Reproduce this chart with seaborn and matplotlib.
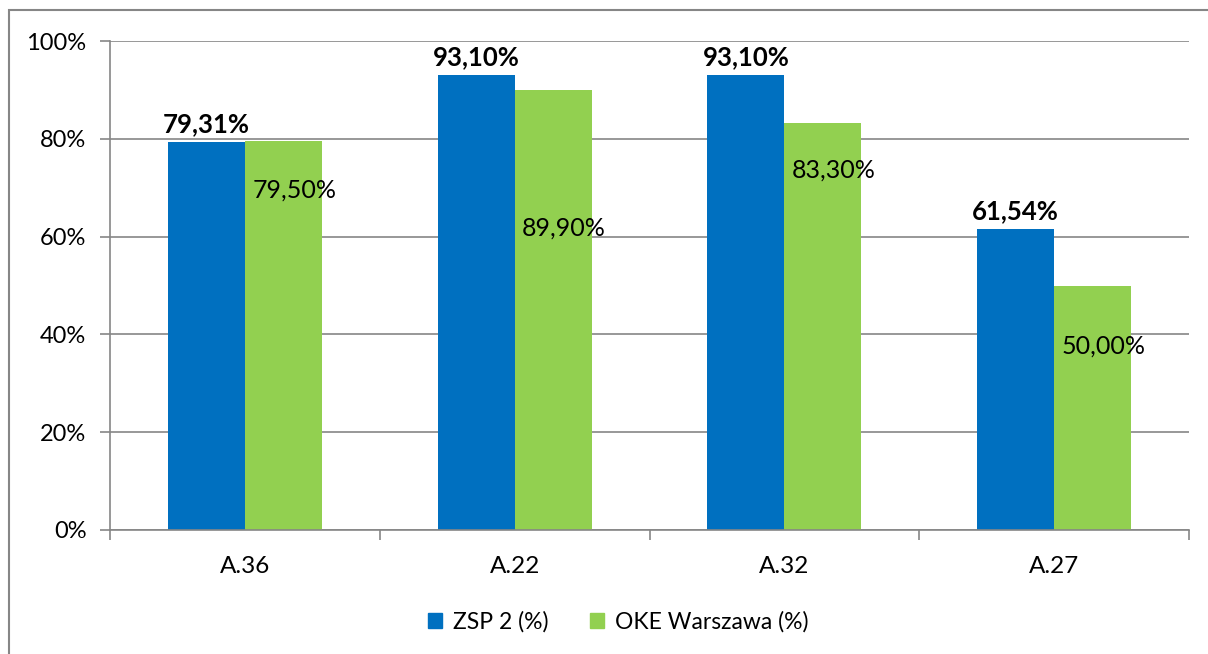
import pandas as pd
import seaborn as sns
import matplotlib.pyplot as plt
from matplotlib.patches import Rectangle

# Data
categories = ["A.36", "A.22", "A.32", "A.27"]
zsp = [79.31, 93.10, 93.10, 61.54]
oke = [79.50, 89.90, 83.30, 50.00]
series_names = ["ZSP 2 (%)", "OKE Warszawa (%)"]
# where the green labels sit (value-axis units)
oke_label_y = [69.5, 61.8, 73.6, 37.6]

df = pd.DataFrame({
    "Kwalifikacja": categories * 2,
    "Wynik": zsp + oke,
    "Seria": [series_names[0]] * 4 + [series_names[1]] * 4,
})

sns.set_style("white")
plt.rcParams["font.family"] = ["Lato", "DejaVu Sans"]
plt.rcParams["text.color"] = "black"
plt.rcParams["xtick.color"] = "black"
plt.rcParams["ytick.color"] = "black"

blue = "#0070C0"
green = "#92D050"
axis_gray = "#868686"

fig = plt.figure(figsize=(12.08, 6.54), dpi=100)
ax = fig.add_axes([110 / 1208, 1 - 530 / 654, 1079 / 1208, 489 / 654])

sns.barplot(data=df, x="Kwalifikacja", y="Wynik", hue="Seria",
            palette=[blue, green], width=0.57, saturation=1,
            edgecolor="none", linewidth=0, ax=ax, legend=False)

ax.set_ylim(0, 100)
ax.set_xlim(-0.5, 3.5)
ax.set_yticks([0, 20, 40, 60, 80, 100])
ax.set_yticklabels([f"{v}%" for v in range(0, 101, 20)], fontsize=17)
ax.set_xlabel("")
ax.set_ylabel("")
ax.yaxis.grid(True, color=axis_gray, linewidth=1.2)
ax.set_axisbelow(True)

for s in ["top", "right"]:
    ax.spines[s].set_visible(False)
for s in ["left", "bottom"]:
    ax.spines[s].set_color(axis_gray)
    ax.spines[s].set_linewidth(1.2)

# x ticks at category boundaries, labels at centers
ax.set_xticks([-0.5, 0.5, 1.5, 2.5, 3.5])
ax.set_xticklabels([])
ax.set_xticks(range(4), minor=True)
ax.set_xticklabels(categories, minor=True, fontsize=17.5)
ax.tick_params(axis="x", which="major", direction="out", length=7,
               color=axis_gray, width=1.2, bottom=True)
ax.tick_params(axis="x", which="minor", length=0, pad=19)
ax.tick_params(axis="y", direction="out", length=7, color=axis_gray,
               width=1.2, left=True, pad=10)

bars_zsp = ax.containers[0]
bars_oke = ax.containers[1]
for bar, v in zip(bars_zsp, zsp):
    ax.annotate(f"{v:.2f}%".replace(".", ","),
                (bar.get_x() + bar.get_width() / 2, v),
                xytext=(0, 4), textcoords="offset points",
                ha="center", va="bottom", fontsize=18.5, fontweight="bold")
for bar, v, ly in zip(bars_oke, oke, oke_label_y):
    ax.annotate(f"{v:.2f}%".replace(".", ","),
                (bar.get_x() + bar.get_width() / 2, ly),
                xytext=(8, 0), textcoords="offset points",
                ha="center", va="center", fontsize=18)

handles = [Rectangle((0, 0), 1, 1, color=blue), Rectangle((0, 0), 1, 1, color=green)]
fig.legend(handles, series_names, loc="center", bbox_to_anchor=(0.512, 1 - 622 / 654),
           ncol=2, frameon=False, fontsize=16.5, handlelength=0.6, handleheight=0.6,
           columnspacing=1.8, handletextpad=0.5)

# chart frame
fig.patches.append(Rectangle((8.5 / 1208, -0.1), 1.2, 1 - 10.5 / 654 + 0.1,
                             transform=fig.transFigure, fill=False,
                             edgecolor=axis_gray, linewidth=1.5))

fig.savefig("out.png", dpi=100)
